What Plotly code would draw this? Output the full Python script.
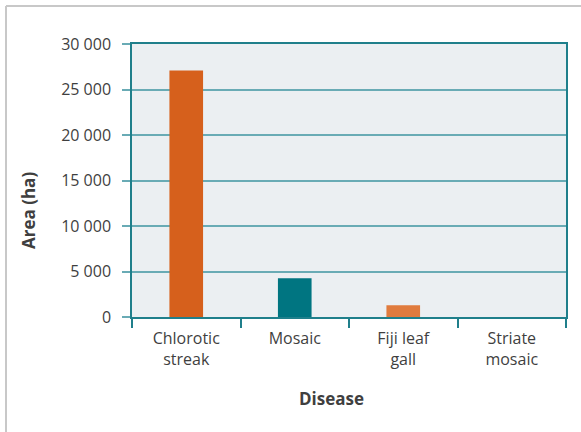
import plotly.graph_objects as go

categories = ["Chlorotic<br>streak", "Mosaic", "Fiji leaf<br>gall", "Striate<br>mosaic"]
values = [27100, 4250, 1300, 0]
bar_colors = ["#d6601c", "#007581", "#e07b3e", "#d6601c"]
y_ticks = [0, 5000, 10000, 15000, 20000, 25000, 30000]

W, H = 581, 432
L, R, T, B = 132, 581 - 566, 44, 432 - 317
pw, ph = W - L - R, H - T - B

def px(x):
    return (x - L) / pw

def py(y):
    return (H - B - y) / ph

font = "Open Sans"
axis_col = "#1f7f8b"
grid_col = "#69abb5"
text_col = "#3f3f3f"

fig = go.Figure(go.Bar(
    x=categories, y=values, marker_color=bar_colors, width=0.31,
    marker_line_width=0,
))

fig.update_layout(
    width=W, height=H,
    margin=dict(l=L, r=R, t=T, b=B),
    paper_bgcolor="white", plot_bgcolor="#ebeff2",
    separators=". ",
    showlegend=False,
    font=dict(family=font, size=16, color=text_col),
)
fig.update_yaxes(
    range=[0, 30000], tickvals=y_ticks, tickformat=",d",
    showgrid=True, gridcolor=grid_col, gridwidth=1.5,
    zeroline=False, showline=True, linecolor=axis_col, linewidth=1.5,
    mirror=True, ticks="outside", ticklen=8, tickcolor=grid_col, tickwidth=1.5,
    ticklabelstandoff=8,
    tickfont=dict(size=16, color=text_col),
)
fig.update_xaxes(
    showline=True, linecolor=axis_col, linewidth=1.5, mirror=True,
    ticks="outside", tickson="boundaries", ticklen=9, tickcolor=axis_col, tickwidth=1.5,
    ticklabelstandoff=6,
    showgrid=False, tickfont=dict(size=16, color=text_col),
)

fig.add_annotation(text="<b>Disease</b>", xref="paper", yref="paper",
                   x=px(331.5), y=py(398), xanchor="center", yanchor="middle",
                   showarrow=False,
                   font=dict(size=17, color=text_col, family=font))
fig.add_annotation(text="<b>Area (ha)</b>", xref="paper", yref="paper",
                   x=px(28), y=py(211), xanchor="center", yanchor="middle",
                   showarrow=False, textangle=-90,
                   font=dict(size=17, color=text_col, family=font))

border = "#c8c8c8"
fig.add_shape(type="line", xref="paper", yref="paper",
              x0=px(6), x1=px(6), y0=py(6), y1=py(H + 2),
              line=dict(color=border, width=2))
fig.add_shape(type="line", xref="paper", yref="paper",
              x0=px(6), x1=px(W + 2), y0=py(6), y1=py(6),
              line=dict(color=border, width=2))

fig.write_html("out.html", config={"displayModeBar": False},
               post_script="document.body.style.margin='0';")
